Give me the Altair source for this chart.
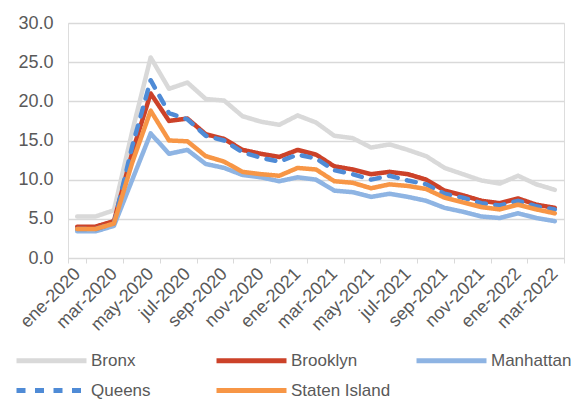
import altair as alt
import pandas as pd

months = ["ene-2020","feb-2020","mar-2020","abr-2020","may-2020","jun-2020","jul-2020","ago-2020","sep-2020","oct-2020","nov-2020","dic-2020",
          "ene-2021","feb-2021","mar-2021","abr-2021","may-2021","jun-2021","jul-2021","ago-2021","sep-2021","oct-2021","nov-2021","dic-2021",
          "ene-2022","feb-2022","mar-2022"]

bronx = [5.3,5.3,6.1,16.2,25.6,21.6,22.4,20.3,20.1,18.1,17.4,17.0,18.2,17.3,15.6,15.3,14.1,14.5,13.8,13.0,11.5,10.7,9.9,9.5,10.5,9.4,8.7]
brooklyn = [4.0,4.0,4.7,13.5,21.0,17.5,17.8,15.8,15.2,13.8,13.3,12.9,13.8,13.2,11.7,11.3,10.7,11.0,10.7,10.0,8.6,8.0,7.3,7.0,7.6,6.8,6.4]
manhattan = [3.4,3.4,4.1,10.0,15.9,13.3,13.8,12.0,11.5,10.6,10.3,9.8,10.3,10.0,8.6,8.4,7.8,8.2,7.8,7.3,6.4,5.9,5.3,5.1,5.7,5.1,4.7]
queens = [3.7,3.7,4.4,14.3,22.7,18.5,17.7,15.6,15.0,13.5,12.8,12.3,13.2,12.7,11.2,10.7,10.0,10.5,9.9,9.4,8.2,7.7,7.0,6.7,7.3,6.6,6.2]
staten = [3.7,3.7,4.4,12.2,18.8,15.0,14.9,13.0,12.3,11.0,10.7,10.5,11.5,11.3,9.8,9.6,8.9,9.4,9.2,8.8,7.7,7.1,6.5,6.2,6.8,6.2,5.7]

series = {"Bronx": bronx, "Brooklyn": brooklyn, "Manhattan": manhattan, "Queens": queens, "Staten Island": staten}
names = list(series.keys())
colors = ["#D9D9D9", "#CC4229", "#8EB4E3", "#4F8BD6", "#F79646"]
dashes = [[1, 0], [1, 0], [1, 0], [9, 9.5], [1, 0]]

rows = []
for name, vals in series.items():
    for i, (m, v) in enumerate(zip(months, vals)):
        rows.append({"mes": m, "idx": i, "serie": name, "valor": v})
df = pd.DataFrame(rows)

FONT = "Liberation Sans"
GRAY = "#595959"

chart = alt.Chart(df).mark_line(strokeWidth=4.5, strokeCap="round", strokeJoin="round").encode(
    x=alt.X("mes:O", sort=months, title=None,
            scale=alt.Scale(paddingInner=0, paddingOuter=0),
            axis=alt.Axis(values=months[::2], labelAngle=-45, labelAlign="right", labelBaseline="middle",
                          labelPadding=8, tickBand="extent", tickSize=5, tickColor="#D9D9D9",
                          domainColor="#D9D9D9", labelColor=GRAY, labelFontSize=18, labelFont=FONT,
                          grid=False)),
    y=alt.Y("valor:Q", title=None,
            scale=alt.Scale(domain=[0, 30]),
            axis=alt.Axis(values=[0, 5, 10, 15, 20, 25, 30], format=".1f", domain=False, ticks=False,
                          gridColor="#D9D9D9", gridWidth=1.3, labelColor=GRAY, labelFontSize=18,
                          labelFont=FONT, labelPadding=15)),
    color=alt.Color("serie:N", scale=alt.Scale(domain=names, range=colors), title=None,
                    legend=alt.Legend(orient="none", legendX=-26, legendY=328, columns=3, direction="horizontal",
                                      symbolType="M-5,0H5", symbolSize=196, symbolStrokeWidth=5,
                                      labelFontSize=17, labelFont=FONT, labelColor=GRAY, labelOffset=30,
                                      gridAlign="all", columnPadding=15, rowPadding=9, labelLimit=200)),
    strokeDash=alt.StrokeDash("serie:N", scale=alt.Scale(domain=names, range=dashes), title=None, legend=None),
    order=alt.Order("idx:Q"),
).properties(
    width=496, height=235,
    autosize=alt.AutoSizeParams(type="none"),
    padding={"left": 60, "top": 15, "right": 7, "bottom": 142},
).configure_view(stroke=None).configure(font=FONT)

chart.save("out.html", embed_options={"renderer": "svg", "actions": False})
